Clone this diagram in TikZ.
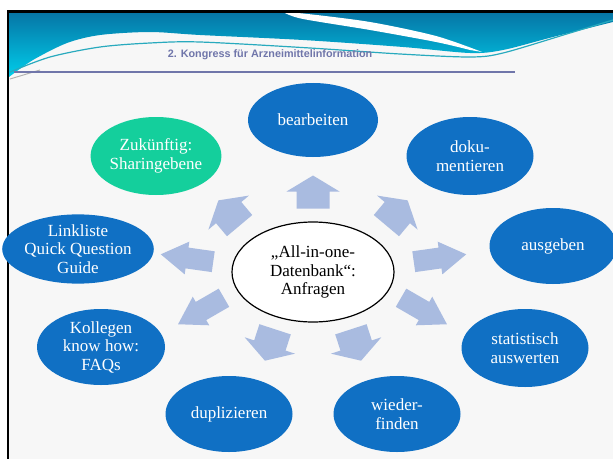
\documentclass[tikz,border=0pt]{standalone}
\usepackage{fontspec}
\setmainfont{Liberation Serif}
\newfontfamily\headfont{Liberation Sans}
\usetikzlibrary{shapes.geometric}
\definecolor{cbubble}{RGB}{16,112,196}
\definecolor{cfuture}{RGB}{20,207,156}
\definecolor{carrow}{RGB}{169,187,224}
\definecolor{ctitle}{RGB}{112,118,170}
\definecolor{cwavetop}{RGB}{6,118,166}
\definecolor{cwavelow}{RGB}{0,205,234}
\definecolor{cwaveline}{RGB}{40,170,190}
\definecolor{cpaper}{RGB}{247,247,247}
\tikzset{
  slide/.style={x=1pt,y=1pt,font=\fontsize{17}{18.5}\selectfont},
  bubble/.style={ellipse,fill=cbubble,text=white,align=center,inner sep=0pt,
    minimum width=127pt,minimum height=76pt},
  hub/.style={ellipse,draw=black,line width=1.2pt,fill=white,align=center,
    inner sep=0pt,minimum width=162pt,minimum height=100pt},
  headline/.style={font=\headfont\bfseries\fontsize{10.8}{12}\selectfont,text=ctitle},
  wide arrow/.pic={\fill[carrow] (-16.5,-16.5) -- (0.5,-16.5) -- (0.5,-26.5) -- (16.5,0)
    -- (0.5,26.5) -- (0.5,16.5) -- (-16.5,16.5) -- cycle;},
  long arrow/.pic={\fill[carrow] (-26.5,-10.5) -- (0,-10.5) -- (0,-16.5) -- (26.5,0)
    -- (0,16.5) -- (0,10.5) -- (-26.5,10.5) -- cycle;}
}
\begin{document}
\begin{tikzpicture}[slide]
  \useasboundingbox (0,0) rectangle (613,459);
  \fill[white] (0,0) rectangle (613,459);
  \fill[cpaper] (8,0) rectangle (613,447);
  % header wave
  \shade[top color=cwavetop,bottom color=cwavelow]
    plot[smooth] coordinates {(9,382) (33,399) (67,416) (100,424) (150,427) (200,424)
      (303,419) (403,412) (470,406) (503,409) (553,422) (613,437)}
    -- (613,446) -- (9,446) -- cycle;
  \fill[white] plot[smooth] coordinates {(285,446) (303,445.5) (370,437) (436,423) (482,407)}
    -- plot[smooth] coordinates {(470,409) (436,417) (370,429) (303,440) (285,446)} -- cycle;
  \draw[cwaveline,line width=1.2pt]
    plot[smooth] coordinates {(10,387) (50,402) (100,412) (150,416) (200,417) (310,411)
      (400,405) (470,402) (503,406) (570,426) (613,439)};
  \draw[gray!60,line width=1pt] (10,380) -- (40,389);
  \node[headline] (title) at (270,404) {2. Kongress für Arzneimittelinformation};
  \draw[ctitle,line width=2.5pt] (14,387) -- (515,387);
  % frame
  \draw[line width=2.5pt] (7,447.5) -- (613,447.5);
  \draw[line width=2pt] (8,448.5) -- (8,0);
  % centre and tasks
  \node[hub] (hub) at (313,187) {„All-in-one-\\Datenbank“:\\Anfragen};
  \node[bubble,minimum width=130pt,minimum height=74pt] (edit) at (313,339) {bearbeiten};
  \node[bubble,minimum height=78pt] (docu) at (470,303) {doku-\\mentieren};
  \node[bubble] (output) at (553,213) {ausgeben};
  \node[bubble,minimum height=78pt] (stats) at (525,111) {statistisch\\auswerten};
  \node[bubble] (retrieve) at (397,45) {wieder-\\finden};
  \node[bubble] (dupl) at (229,45) {duplizieren};
  \node[bubble,minimum width=128pt] (faq) at (101,112) {Kollegen\\know how:\\FAQs};
  \node[bubble,minimum width=136pt,minimum height=68pt] (links) at (78,210)
    {Linkliste\\Quick Question\\Guide};
  \node[bubble,fill=cfuture,minimum width=128pt,minimum height=78pt] (share) at (156,303)
    {Zukünftig:\\Sharingebene};
  % block arrows round the hub
  \foreach \dx/\dy/\ang in {0/80/90, 84/59/50, -84/59/130, 43/-73/-72, -43/-73/-108}
    \path (hub.center) ++(\dx,\dy) pic[rotate=\ang] {wide arrow};
  \foreach \dx/\dy/\ang in {127/14/8, -126/14/172, 111/-39/-30, -112/-39/-150}
    \path (hub.center) ++(\dx,\dy) pic[rotate=\ang] {long arrow};
\end{tikzpicture}
\end{document}
